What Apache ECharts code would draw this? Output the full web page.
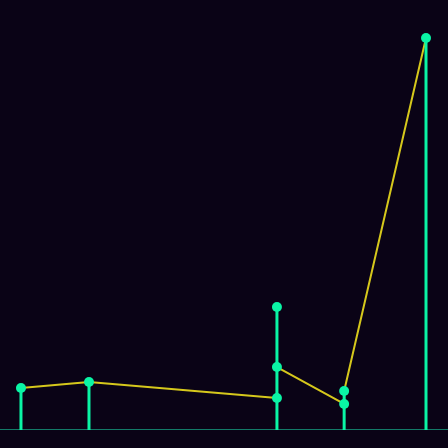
<!DOCTYPE html>
<html><head><meta charset="utf-8">
<style>html,body{margin:0;padding:0;background:#0a0316;}#c{width:448px;height:448px;}</style>
<script src="https://cdn.jsdelivr.net/npm/echarts@6/dist/echarts.min.js"></script>
</head><body><div id="c"></div>
<script>
// x positions (stems)
var stemX = [1.03, 4.37, 13.6, 16.9, 20.92];
// point values: [x, y]
var points = [[1.03, 9.77], [4.37, 11.16], [13.6, 7.44], [13.6, 14.65], [13.6, 28.6], [16.9, 6.05], [16.9, 9.07], [20.92, 91.16]];
// line path values
var lineVals = [[1.03, 9.77], [4.37, 11.16], [13.6, 7.44], [13.6, 14.65], [16.9, 6.05], [16.9, 9.07], [20.92, 91.16]];
// stem tops
var stemTop = [9.77, 11.16, 28.6, 9.07, 91.16];

var stems = stemX.map(function (x, i) { return [x, stemTop[i]]; });
var chart = echarts.init(document.getElementById('c'));
chart.setOption({
  backgroundColor: '#0a0316',
  animation: false,
  grid: { left: 0, right: 0, top: 0, bottom: 18 },
  xAxis: { type: 'value', min: 0, max: 22, show: false },
  yAxis: { type: 'value', min: 0, max: 100, axisLine: { show: false }, axisLabel: { show: false }, axisTick: { show: false }, splitLine: { show: false } },
  series: [
    {
      type: 'custom', data: [[0, 0]], z: 0,
      renderItem: function (params, api) {
        var p0 = api.coord([0, 0]);
        return { type: 'line', shape: { x1: 0, y1: p0[1] - 0.5, x2: 448, y2: p0[1] - 0.5 }, style: { stroke: '#137a68', lineWidth: 1 } };
      }
    },
    {
      type: 'line', data: lineVals, z: 1, symbol: 'none',
      lineStyle: { color: '#d6c81c', width: 2 }
    },
    {
      type: 'custom', data: stems, z: 2,
      renderItem: function (params, api) {
        var p0 = api.coord([api.value(0), 0]);
        var p1 = api.coord([api.value(0), api.value(1)]);
        return { type: 'line', shape: { x1: p0[0], y1: p0[1], x2: p1[0], y2: p1[1] }, style: { stroke: '#0af5a5', lineWidth: 3 } };
      }
    },
    {
      type: 'scatter', data: points, z: 3, symbolSize: 10,
      itemStyle: { color: '#0af5a5', opacity: 1 }
    }
  ]
});
</script></body></html>
